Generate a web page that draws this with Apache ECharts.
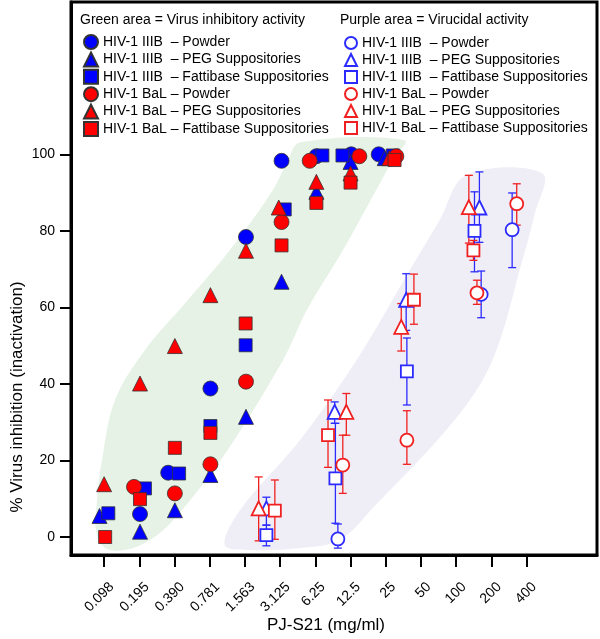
<!DOCTYPE html>
<html>
<head>
<meta charset="utf-8">
<script src="https://cdn.jsdelivr.net/npm/echarts@6/dist/echarts.min.js"></script>
<style>html,body{margin:0;padding:0;background:#fff}#c{width:600px;height:639px}</style>
</head>
<body>
<div id="c"></div>
<script>
// ---- data ----
const concLabels = ['0.098','0.195','0.390','0.781','1.563','3.125','6.25','12.5','25','50','100','200','400'];
const yTickValues = [0, 20, 40, 60, 80, 100];

// x = position on the log2 concentration scale (0 = 0.098, 1 = 0.195, ...), y = % inhibition
const iiibPowder = [[1.02,6],[1.82,16.8],[3.02,38.8],[4.03,78.4],[5.04,98.3],[6.03,99.5],[7.02,100],[7.8,100]];
const iiibPEG = [[-0.13,5.5],[1.02,1.4],[2.01,7],[3.02,16.2],[4.03,31.4],[5.04,66.7],[6.03,90.2],[7.0,98],[7.97,99]];
const iiibFatti = [[0.12,6.2],[1.16,12.7],[2.13,16.6],[3.02,29],[4.02,50.1],[5.13,85.6],[6.2,99.7],[6.77,99.7],[8.2,99.7]];
const balPowder = [[0.85,13.1],[2.01,11.4],[3.02,19],[4.03,40.6],[5.04,82.3],[5.84,98.3],[7.25,99.5],[8.3,99.5]];
const balPEG = [[0,13.8],[1.02,40.1],[2.01,49.9],[3.02,63.2],[4.03,74.8],[4.96,86.1],[6.03,92.8],[7.0,95],[8.1,99]];
const balFatti = [[0.03,0],[1.02,9.9],[2.01,23.3],[3.02,27.2],[4.02,55.8],[5.04,76.2],[6.03,87.3],[7.0,92.6],[8.25,98.5]];

// virucidal: [x, mean, low, high]
const vIiibPowder = [[6.64,-0.5,-2.9,3.4],[10.71,63.4,57.3,69.5],[11.59,80.3,70.4,89.9]];
const vIiibPEG = [[4.61,7.5,3.1,10.4],[6.55,32.7,29.7,35.3],[8.58,62,54,68.8],[10.66,86.1,77,95.4]];
const vIiibFatti = [[4.61,0.5,-2.3,3.1],[6.57,15.3,3.6,29.7],[8.6,43.3,34.5,52],[10.52,80,69.3,90.2]];
const vBalPowder = [[6.78,18.8,11.4,26.6],[8.6,25.3,19,33],[10.59,63.8,60.8,67.1],[11.72,87.1,81.5,92.3]];
const vBalPEG = [[4.39,7.5,-1,15.7],[6.88,32.7,26.6,37.5],[8.44,54.9,48.6,61],[10.36,86.2,76.8,94.5]];
const vBalFatti = [[4.85,6.9,-0.6,14.9],[6.36,26.6,18.2,35.8],[8.8,62,55.6,68.7],[10.49,74.9,72.3,77.5]];

// shaded areas (x on the same log2 scale, y in %)
const greenArea = [[5.56,103.1],[8.53,103.7],[8.19,98.4],[6.78,74.9],[5.76,59.3],[5.08,46.2],[3.37,20.9],[1.96,4.4],[1.30,-0.8],[0.60,-3.4],[0.03,-2.9],[-0.23,1.8],[-0.2,9.7],[-0.06,20.1],[0.31,35.8],[1.16,48.8],[2.38,61.9],[3.57,74.9],[4.79,90.6],[5.2,98]];
const purpleArea = [[10.29,94.6],[12.45,95.0],[12.22,84.1],[11.88,72.3],[11.03,46.2],[9.95,30.5],[7.63,7.6],[6.69,-0.8],[5.56,-2.9],[4.14,-3.4],[3.43,-2.1],[3.86,7.0],[5.56,25.3],[7.17,46.2],[8.68,69.7],[9.53,82.8]];

const legendNames = [
  'HIV-1 IIIB  – Powder',
  'HIV-1 IIIB  – PEG Suppositories',
  'HIV-1 IIIB  – Fattibase Suppositories',
  'HIV-1 BaL – Powder',
  'HIV-1 BaL – PEG Suppositories',
  'HIV-1 BaL – Fattibase Suppositories'
];
const SUF = '\u200B';  // zero-width suffix to keep virucidal series names unique

// ---- chart ----
const BLUE = '#0000ff', RED = '#ff0000';
const OBLUE = '#2b2bff', ORED = '#f02020';
const FONT = '"Liberation Sans", Arial, Helvetica, sans-serif';
const chart = echarts.init(document.getElementById('c'), null, {renderer: 'canvas'});

function areaSeries(pts, color) {
  return {
    type: 'custom', silent: true, z: 1,
    data: [[0, 0]],
    renderItem: function (params, api) {
      const points = pts.map(p => api.coord(p));
      return {type: 'polygon', shape: {points: points, smooth: 0.35}, style: {fill: color, stroke: null}};
    }
  };
}
function errSeries(arr, color) {
  return {
    type: 'custom', silent: true, z: 3,
    data: arr.map(d => [d[0], d[2], d[3]]),
    renderItem: function (params, api) {
      const x = api.value(0);
      const lo = api.coord([x, api.value(1)]);
      const hi = api.coord([x, api.value(2)]);
      const w = 4;
      const st = {stroke: color, lineWidth: 1.3};
      return {type: 'group', children: [
        {type: 'line', shape: {x1: lo[0], y1: lo[1], x2: hi[0], y2: hi[1]}, style: st},
        {type: 'line', shape: {x1: lo[0]-w, y1: lo[1], x2: lo[0]+w, y2: lo[1]}, style: st},
        {type: 'line', shape: {x1: hi[0]-w, y1: hi[1], x2: hi[0]+w, y2: hi[1]}, style: st}
      ]};
    }
  };
}
function filled(name, data, symbol, size, color) {
  return {type: 'scatter', name: name, data: data, symbol: symbol, symbolSize: size, z: 5,
    itemStyle: {color: color, borderColor: '#333', borderWidth: 0.8, opacity: 1}};
}
function open(name, arr, symbol, size, color) {
  return {type: 'scatter', name: name + SUF, data: arr.map(d => [d[0], d[1]]), symbol: symbol, symbolSize: size, z: 4,
    itemStyle: {color: '#fff', borderColor: color, borderWidth: 1.8, opacity: 1}};
}

const series = [
  areaSeries(greenArea, '#e5f2e5'),
  areaSeries(purpleArea, '#efeef6'),
  errSeries(vIiibPowder, OBLUE), errSeries(vIiibPEG, OBLUE), errSeries(vIiibFatti, OBLUE),
  errSeries(vBalPowder, ORED), errSeries(vBalPEG, ORED), errSeries(vBalFatti, ORED),
  open(legendNames[0], vIiibPowder, 'circle', 13, OBLUE),
  open(legendNames[1], vIiibPEG, 'triangle', 14, OBLUE),
  open(legendNames[2], vIiibFatti, 'rect', 12, OBLUE),
  open(legendNames[3], vBalPowder, 'circle', 13, ORED),
  open(legendNames[4], vBalPEG, 'triangle', 14, ORED),
  open(legendNames[5], vBalFatti, 'rect', 12, ORED),
  filled(legendNames[0], iiibPowder, 'circle', 15, BLUE),
  filled(legendNames[1], iiibPEG, 'triangle', 15, BLUE),
  filled(legendNames[2], iiibFatti, 'rect', 13, BLUE),
  filled(legendNames[3], balPowder, 'circle', 15, RED),
  filled(legendNames[4], balPEG, 'triangle', 15, RED),
  filled(legendNames[5], balFatti, 'rect', 13, RED)
];

const legendText = {fontSize: 14, color: '#000', fontFamily: FONT};
const option = {
  animation: false,
  backgroundColor: '#fff',
  textStyle: {fontFamily: FONT},
  grid: {left: 71, right: 3, top: 2, bottom: 84, show: true, borderColor: '#000', borderWidth: 3, backgroundColor: 'transparent'},
  xAxis: {
    type: 'value', min: -0.94, max: 14.0,
    splitLine: {show: false},
    axisLine: {show: true, onZero: false, lineStyle: {color: '#000', width: 3}},
    axisTick: {show: true, length: 12, lineStyle: {color: '#000', width: 2}, customValues: concLabels.map((_, i) => i)},
    axisLabel: {rotate: 45, fontSize: 14, color: '#000', fontFamily: FONT, margin: 22,
      verticalAlign: 'top', padding: [4, 0, 0, 0],
      customValues: concLabels.map((_, i) => i),
      formatter: v => concLabels[Math.round(v)] || ''}
  },
  yAxis: {
    type: 'value', min: -4.7, max: 139.8,
    splitLine: {show: false},
    axisLine: {show: true, onZero: false, lineStyle: {color: '#000', width: 3}},
    axisTick: {show: true, length: 11, lineStyle: {color: '#000', width: 2}, customValues: yTickValues},
    axisLabel: {fontSize: 14, color: '#000', fontFamily: FONT, margin: 16, customValues: yTickValues}
  },
  legend: [
    {
      orient: 'vertical', left: 78, top: 29, itemWidth: 14, itemHeight: 14, itemGap: 1.4,
      textStyle: legendText, selectedMode: false,
      data: legendNames.slice()
    },
    {
      orient: 'vertical', left: 339, top: 31, itemWidth: 12, itemHeight: 12, itemGap: 3.0,
      textStyle: legendText, selectedMode: false,
      data: legendNames.map(n => n + SUF),
      formatter: n => n.replace(/\u200B$/, '')
    }
  ],
  graphic: [
    {type: 'text', left: 80, top: 13, style: {text: 'Green area = Virus inhibitory activity', fontSize: 14, fill: '#000', fontFamily: FONT}},
    {type: 'text', left: 340, top: 13, style: {text: 'Purple area = Virucidal activity', fontSize: 14, fill: '#000', fontFamily: FONT}},
    {type: 'text', x: 17, y: 397, rotation: Math.PI / 2,
      style: {text: '% Virus inhibition (inactivation)', fontSize: 17, fill: '#000', fontFamily: FONT, align: 'center', verticalAlign: 'middle'}},
    {type: 'text', x: 326, y: 625,
      style: {text: 'PJ-S21 (mg/ml)', fontSize: 17, fill: '#000', fontFamily: FONT, align: 'center', verticalAlign: 'middle'}}
  ],
  series: series
};
chart.setOption(option);
</script>
</body>
</html>
